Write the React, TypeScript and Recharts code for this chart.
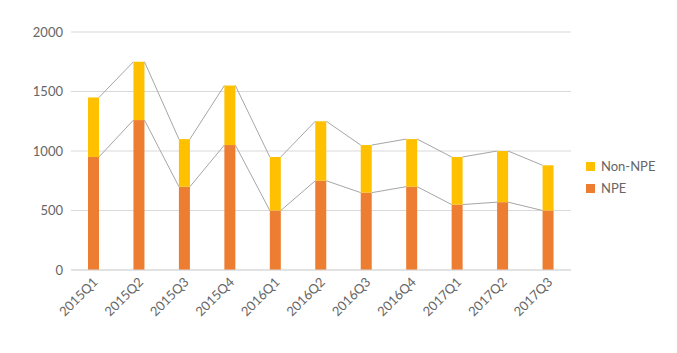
import { Bar, BarChart, CartesianGrid, Legend, XAxis, YAxis } from "recharts";

const quarters = [
  "2015Q1", "2015Q2", "2015Q3", "2015Q4",
  "2016Q1", "2016Q2", "2016Q3", "2016Q4",
  "2017Q1", "2017Q2", "2017Q3",
];
const npe = [950, 1260, 700, 1050, 500, 750, 650, 700, 550, 570, 500];
const nonNpe = [500, 490, 400, 500, 450, 500, 400, 400, 400, 430, 380];
const yTicks = [0, 500, 1000, 1500, 2000];

const rows = quarters.map((q, i) => ({ q, npe: npe[i], nonNpe: nonNpe[i] }));

const W = 677;
const H = 353;
const PLOT_LEFT = 71;
const PLOT_RIGHT = 571;
const STEP = (PLOT_RIGHT - PLOT_LEFT) / quarters.length;
const FONT = "Lato, 'Open Sans', sans-serif";
const INK = "#666666";
const ORANGE = "#ED7D31";
const YELLOW = "#FFC000";
const SERIES_LINE = "#a6a6a6";

// bar + "series line" to the next bar's top, using the bar's own pixel/unit ratio
function makeShape(layer: "npe" | "total") {
  return function SeriesBar(props: any) {
    const { x, y, width, height, index, fill } = props;
    const seg = layer === "npe" ? npe[index] : nonNpe[index];
    const ppu = seg > 0 ? height / seg : 0;
    const zeroY = layer === "npe" ? y + height : y + height + npe[index] * ppu;
    const next = index + 1 < rows.length ? index + 1 : -1;
    let line = null;
    if (next >= 0 && ppu > 0) {
      const nextTop = layer === "npe" ? npe[next] : npe[next] + nonNpe[next];
      line = (
        <line
          x1={x + width}
          y1={y}
          x2={x + STEP}
          y2={zeroY - nextTop * ppu}
          stroke={SERIES_LINE}
          strokeWidth={1}
        />
      );
    }
    return (
      <g>
        <rect x={x} y={y} width={width} height={height} fill={fill} />
        {line}
      </g>
    );
  };
}

function QuarterTick({ x, y, payload }: any) {
  return (
    <text
      x={x}
      y={y}
      dy={7}
      transform={`rotate(-45, ${x}, ${y})`}
      textAnchor="end"
      fill={INK}
      fontSize={13}
      fontFamily={FONT}
    >
      {payload.value}
    </text>
  );
}

function LegendBox() {
  const items = [
    { label: "Non-NPE", color: YELLOW },
    { label: "NPE", color: ORANGE },
  ];
  return (
    <div style={{ fontFamily: FONT, fontSize: 13, color: INK }}>
      {items.map((it) => (
        <div key={it.label} style={{ display: "flex", alignItems: "center", height: 22 }}>
          <span style={{ width: 9, height: 9, background: it.color, marginRight: 6 }} />
          {it.label}
        </div>
      ))}
    </div>
  );
}

export default function App() {
  return (
    <div style={{ position: "absolute", left: 0, top: 0, width: W, height: H, background: "#fff" }}>
      <BarChart
        width={W}
        height={H}
        data={rows}
        margin={{ top: 32, right: W - PLOT_RIGHT, left: 0, bottom: 13 }}
        barSize={11}
      >
        <CartesianGrid vertical={false} stroke="#d9d9d9" />
        <XAxis
          dataKey="q"
          height={70}
          interval={0}
          tickLine={false}
          axisLine={{ stroke: "#d9d9d9" }}
          tick={<QuarterTick />}
        />
        <YAxis
          width={PLOT_LEFT}
          domain={[0, 2000]}
          ticks={yTicks}
          axisLine={false}
          tickLine={false}
          tick={{ fill: INK, fontSize: 13, fontFamily: FONT }}
        />
        <Legend
          layout="horizontal"
          align="center"
          verticalAlign="middle"
          content={<LegendBox />}
          wrapperStyle={{ left: 586, top: 155, width: 90 }}
        />
        <Bar dataKey="npe" name="NPE" stackId="a" fill={ORANGE} shape={makeShape("npe")} isAnimationActive={false} />
        <Bar dataKey="nonNpe" name="Non-NPE" stackId="a" fill={YELLOW} shape={makeShape("total")} isAnimationActive={false} />
      </BarChart>
    </div>
  );
}
